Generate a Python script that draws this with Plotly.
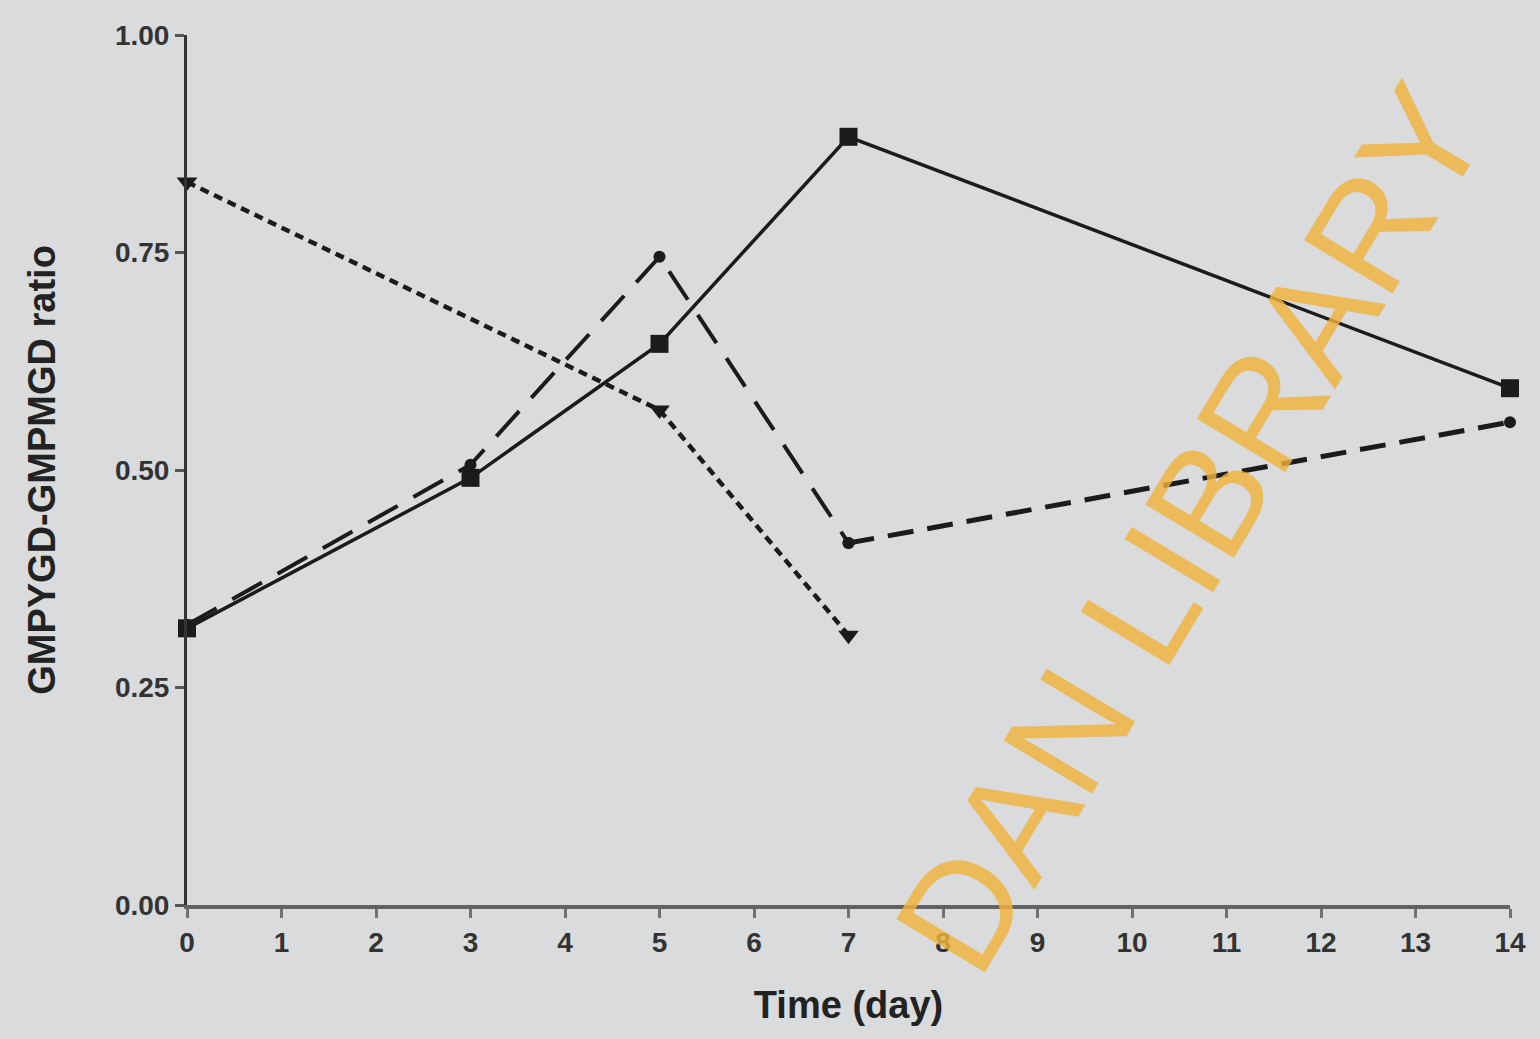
import plotly.graph_objects as go

# Data
days_a = [0, 3, 5, 7, 14]
ratio_a = [0.318, 0.491, 0.645, 0.883, 0.594]   # solid, squares

days_b = [0, 3, 5, 7, 14]
ratio_b = [0.322, 0.506, 0.745, 0.416, 0.555]   # long dash, circles

days_c = [0, 5, 7]
ratio_c = [0.831, 0.569, 0.310]                 # dotted, down-triangles

x_ticks = list(range(0, 15))
y_ticks = [0.0, 0.25, 0.5, 0.75, 1.0]
y_tick_text = ["0.00", "0.25", "0.50", "0.75", "1.00"]

ink = "#1b1b1b"
bg = "#d9dbdd"

fig = go.Figure()

fig.add_trace(go.Scatter(
    x=days_c, y=ratio_c, mode="lines+markers",
    line=dict(color=ink, width=4.5, dash="9px,6px"),
    marker=dict(symbol="triangle-down", size=18, color=ink),
    showlegend=False, cliponaxis=False))

# long-dash series: first part long dashes, last segment shorter dashes
fig.add_trace(go.Scatter(
    x=days_b[:4], y=ratio_b[:4], mode="lines+markers",
    line=dict(color=ink, width=4, dash="34px,18px"),
    marker=dict(symbol="circle", size=12, color=ink),
    showlegend=False, cliponaxis=False))
fig.add_trace(go.Scatter(
    x=days_b[3:], y=ratio_b[3:], mode="lines+markers",
    line=dict(color=ink, width=5, dash="26px,14px"),
    marker=dict(symbol="circle", size=12, color=ink),
    showlegend=False, cliponaxis=False))

fig.add_trace(go.Scatter(
    x=days_a, y=ratio_a, mode="lines+markers",
    line=dict(color=ink, width=3.5),
    marker=dict(symbol="square", size=18, color=ink),
    showlegend=False, cliponaxis=False))

fig.add_annotation(
    text="DAN LIBRARY", xref="paper", yref="paper",
    x=0.759, y=0.433, xanchor="center", yanchor="middle",
    textangle=-59, showarrow=False,
    font=dict(family="Liberation Sans, Arial", size=150, color="rgba(240,178,60,0.82)"))

tickfont = dict(size=28, color="#333", family="Liberation Sans, Arial", weight="bold")

fig.update_layout(
    width=1540, height=1039,
    margin=dict(l=187, r=30, t=35, b=134),
    paper_bgcolor=bg, plot_bgcolor=bg,
    font=dict(family="Liberation Sans, Arial", color="#2a2a2a"),
    xaxis=dict(
        range=[0, 14], tickvals=x_ticks, ticktext=[str(v) for v in x_ticks],
        showgrid=False, zeroline=False,
        showline=True, linecolor="#606264", linewidth=4,
        ticks="outside", ticklen=9, tickwidth=3, tickcolor="#707274",
        tickfont=tickfont,
        title=dict(text="<b>Time (day)</b>", font=dict(size=38, color="#222"), standoff=36),
    ),
    yaxis=dict(
        range=[0, 1], tickvals=y_ticks, ticktext=y_tick_text,
        showgrid=False, zeroline=False,
        showline=True, linecolor="#333", linewidth=3,
        ticks="outside", ticklen=9, tickwidth=3, tickcolor="#555",
        tickfont=tickfont,
        title=dict(text="<b>GMPYGD-GMPMGD ratio</b>", font=dict(size=38, color="#222"), standoff=48),
    ),
)

fig.write_html("out.html")
